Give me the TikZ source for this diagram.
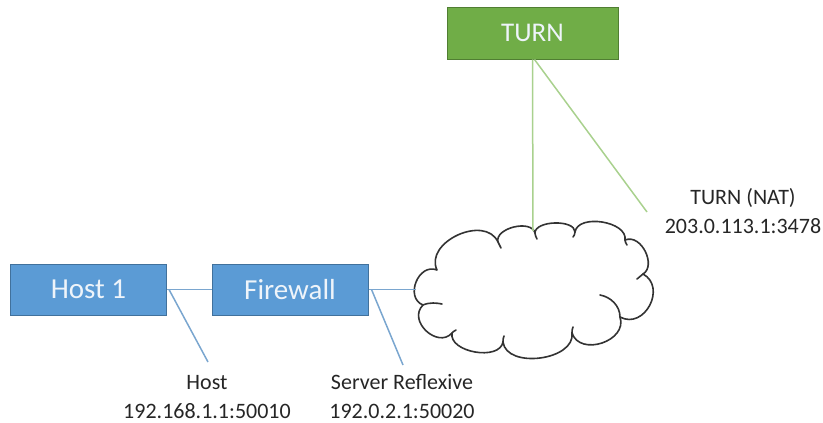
\documentclass[tikz,border=0pt]{standalone}
\usepackage{fontspec}
\setmainfont{Carlito}
\definecolor{boxblue}{HTML}{5B9BD5}
\definecolor{boxblueline}{HTML}{41719C}
\definecolor{boxgreen}{HTML}{70AD47}
\definecolor{boxgreenline}{HTML}{507E32}
\definecolor{linkblue}{HTML}{7AA6CF}
\definecolor{linkgreen}{HTML}{A9D18E}
\definecolor{boxtext}{HTML}{EEF4FA}
\definecolor{labeltext}{HTML}{262626}
\definecolor{cloudline}{HTML}{333333}
\tikzset{
  bluebox/.style={draw=boxblueline, fill=boxblue, line width=1pt, minimum width=156pt, minimum height=51pt, inner sep=0pt, text=boxtext, font=\fontsize{29}{32}\selectfont},
  greenbox/.style={draw=boxgreenline, fill=boxgreen, line width=1pt, minimum width=171pt, minimum height=52pt, inner sep=0pt, text=boxtext, font=\fontsize{27}{30}\selectfont},
  bluelink/.style={draw=linkblue, line width=1.5pt},
  greenlink/.style={draw=linkgreen, line width=1.5pt},
  cloudarea/.style={inner sep=0pt, minimum width=234pt, minimum height=136pt},
  cloudstroke/.style={draw=cloudline, line width=1.6pt, line cap=round, line join=round},
  addrlabel/.style={text=labeltext, align=center, font=\fontsize{22}{29}\selectfont, inner sep=0pt}
}
\begin{document}
\begin{tikzpicture}[x=1pt, y=-1pt]
\useasboundingbox (0,0) rectangle (823,423);
\node[bluebox] (host) at (88.5,289.5) {Host 1};
\node[bluebox] (fw) at (290,289.5) {Firewall};
\node[greenbox] (turn) at (532.5,33) {TURN};
\node[cloudarea] (net) at (533,290) {};

% cloud outline
\draw[cloudstroke, fill=white]
  (423,305) .. controls (404.4,297.6) and (418.4,262.6) .. (437,270)
  .. controls (424,242) and (485,214) .. (498,242)
  .. controls (494.5,228) and (531.5,219) .. (535,233)
  .. controls (535,220.3) and (575,219.3) .. (575,232)
  .. controls (578,213.4) and (628,221.4) .. (625,240)
  .. controls (641.6,233.4) and (656.6,266) .. (643,274)
  .. controls (667,287) and (644.6,330.2) .. (620,317)
  .. controls (628,341) and (580,357) .. (572,333)
  .. controls (575.6,360.3) and (506.6,369.3) .. (503,342)
  .. controls (499.6,361.3) and (448.6,352.3) .. (452,333)
  .. controls (438,349) and (407,321) .. (423,305) -- cycle;
% inner curls
\draw[cloudstroke] (423,305) .. controls (430,302) and (437,303) .. (442,304);
\draw[cloudstroke] (498,242) .. controls (499,244) and (500,246) .. (501,248);
\draw[cloudstroke] (535,233) .. controls (535,235) and (536,237) .. (537,239);
\draw[cloudstroke] (575,232) .. controls (575,234) and (574,236) .. (573,237);
\draw[cloudstroke] (625,240) .. controls (625,242) and (626,243) .. (627,245);
\draw[cloudstroke] (643,274) .. controls (641,276) and (639,277) .. (637,279);
\draw[cloudstroke] (600,295) .. controls (611,297) and (620,306) .. (620,317);
\draw[cloudstroke] (572,333) .. controls (572,331) and (572,329) .. (573,327);
\draw[cloudstroke] (503,342) .. controls (503,340) and (503,338) .. (504,336);
\draw[cloudstroke] (452,333) .. controls (453,332) and (454,331) .. (456,330);

\coordinate (hostpt) at (208,362);
\coordinate (srflxpt) at (403,365);
\coordinate (turnpt) at (647,212);
\coordinate (cloudtop) at (533,231);

\draw[bluelink] (host.east) -- (fw.west);
\draw[bluelink] (fw.east) -- (fw.east -| net.west);
\draw[bluelink] ([xshift=2pt]host.east) -- (hostpt);
\draw[bluelink] ([xshift=3pt]fw.east) -- (srflxpt);
\draw[greenlink] (turn.south) -- (cloudtop);
\draw[greenlink] ([xshift=2pt]turn.south) -- (turnpt);

\node[addrlabel] (hostlbl) at (207,397) {Host\\192.168.1.1:50010};
\node[addrlabel] (srflxlbl) at (402,397) {Server Reflexive\\192.0.2.1:50020};
\node[addrlabel] (turnlbl) at (743,211) {TURN (NAT)\\203.0.113.1:3478};
\end{tikzpicture}
\end{document}
